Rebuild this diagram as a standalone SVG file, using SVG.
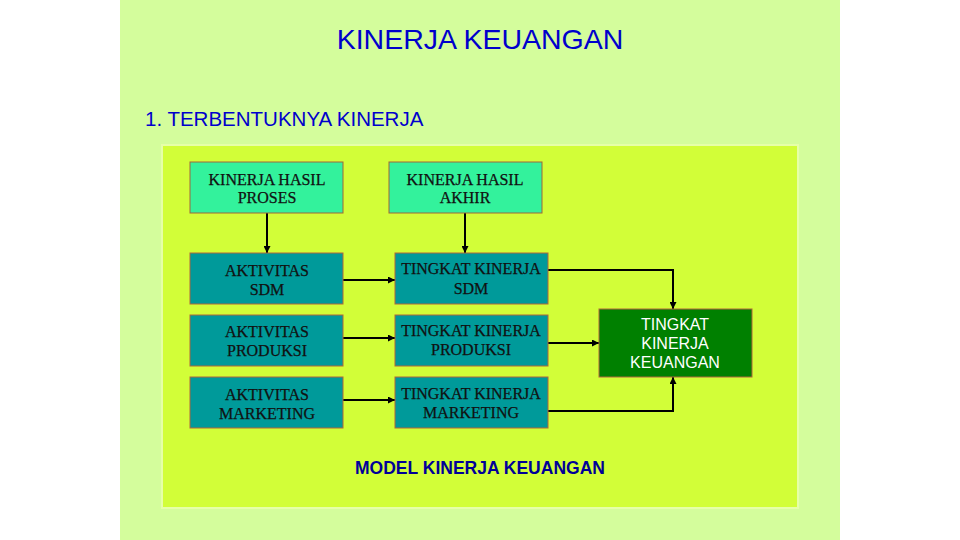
<svg xmlns="http://www.w3.org/2000/svg" width="960" height="540" viewBox="0 0 960 540">
<defs>
<marker id="ah" viewBox="0 0 10 10" refX="10" refY="5" markerWidth="8" markerHeight="7" markerUnits="userSpaceOnUse" orient="auto"><path d="M0,0 L10,5 L0,10 z" fill="#000"/></marker>
<style>
.t{font-family:"Liberation Sans",Arial,sans-serif;fill:#0000cc;}
.s{font-family:"Liberation Serif","Times New Roman",serif;font-size:16px;fill:#111;text-anchor:middle;stroke:#111;stroke-width:0.25px;}
.a{font-family:"Liberation Sans",Arial,sans-serif;font-size:16px;fill:#fff;text-anchor:middle;}
.lt{fill:#33f29c;stroke:#a0663a;stroke-width:1;}
.dk{fill:#009a9a;stroke:#b0663a;stroke-width:1;}
.c{fill:none;stroke:#000;stroke-width:2;marker-end:url(#ah);}
</style>
</defs>
<rect width="960" height="540" fill="#fff"/>
<rect x="120" y="0" width="720" height="540" fill="#d4fd9c"/>
<text class="t" x="480" y="49" font-size="28.5" text-anchor="middle">KINERJA KEUANGAN</text>
<text class="t" x="145" y="126" font-size="20.5">1. TERBENTUKNYA KINERJA</text>
<rect x="162" y="145" width="636" height="363" fill="#d2fe38" stroke="#e6ffa8" stroke-width="2"/>
<g id="connectors">
<line class="c" x1="267" y1="213" x2="267" y2="253"/>
<line class="c" x1="465" y1="213" x2="465" y2="253"/>
<line class="c" x1="343" y1="280" x2="395" y2="280"/>
<line class="c" x1="343" y1="338" x2="395" y2="338"/>
<line class="c" x1="343" y1="400" x2="395" y2="400"/>
<polyline class="c" points="548,270 673,270 673,309" stroke-width="1.5"/>
<line class="c" x1="548" y1="343" x2="599" y2="343"/>
<polyline class="c" points="548,411 673,411 673,377" stroke-width="1.5"/>
</g>
<g id="n-hasil-proses"><rect class="lt" x="190" y="162" width="153" height="51"/><text class="s" x="267" y="185">KINERJA HASIL</text><text class="s" x="267" y="203">PROSES</text></g>
<g id="n-hasil-akhir"><rect class="lt" x="389" y="162" width="153" height="51"/><text class="s" x="465" y="185">KINERJA HASIL</text><text class="s" x="465" y="203">AKHIR</text></g>
<g id="n-akt-sdm"><rect class="dk" x="190" y="253" width="153" height="51"/><text class="s" x="267" y="276">AKTIVITAS</text><text class="s" x="267" y="295">SDM</text></g>
<g id="n-tk-sdm"><rect class="dk" x="395" y="253" width="153" height="51"/><text class="s" x="471" y="274">TINGKAT KINERJA</text><text class="s" x="471" y="294">SDM</text></g>
<g id="n-akt-prod"><rect class="dk" x="190" y="315" width="153" height="51"/><text class="s" x="267" y="337">AKTIVITAS</text><text class="s" x="267" y="356">PRODUKSI</text></g>
<g id="n-tk-prod"><rect class="dk" x="395" y="315" width="153" height="51"/><text class="s" x="471" y="336">TINGKAT KINERJA</text><text class="s" x="471" y="355">PRODUKSI</text></g>
<g id="n-akt-mkt"><rect class="dk" x="190" y="377" width="153" height="51"/><text class="s" x="267" y="400">AKTIVITAS</text><text class="s" x="267" y="419">MARKETING</text></g>
<g id="n-tk-mkt"><rect class="dk" x="395" y="377" width="153" height="51"/><text class="s" x="471" y="399">TINGKAT KINERJA</text><text class="s" x="471" y="418">MARKETING</text></g>
<g id="n-keuangan"><rect x="599" y="309" width="153" height="68" fill="#008000" stroke="#b0663a" stroke-width="1"/><text class="a" x="675" y="330">TINGKAT</text><text class="a" x="675" y="349">KINERJA</text><text class="a" x="675" y="368">KEUANGAN</text></g>
<text x="480" y="474" font-family="'Liberation Sans',Arial,sans-serif" font-size="17.5" font-weight="bold" fill="#000099" text-anchor="middle">MODEL KINERJA KEUANGAN</text>
</svg>
